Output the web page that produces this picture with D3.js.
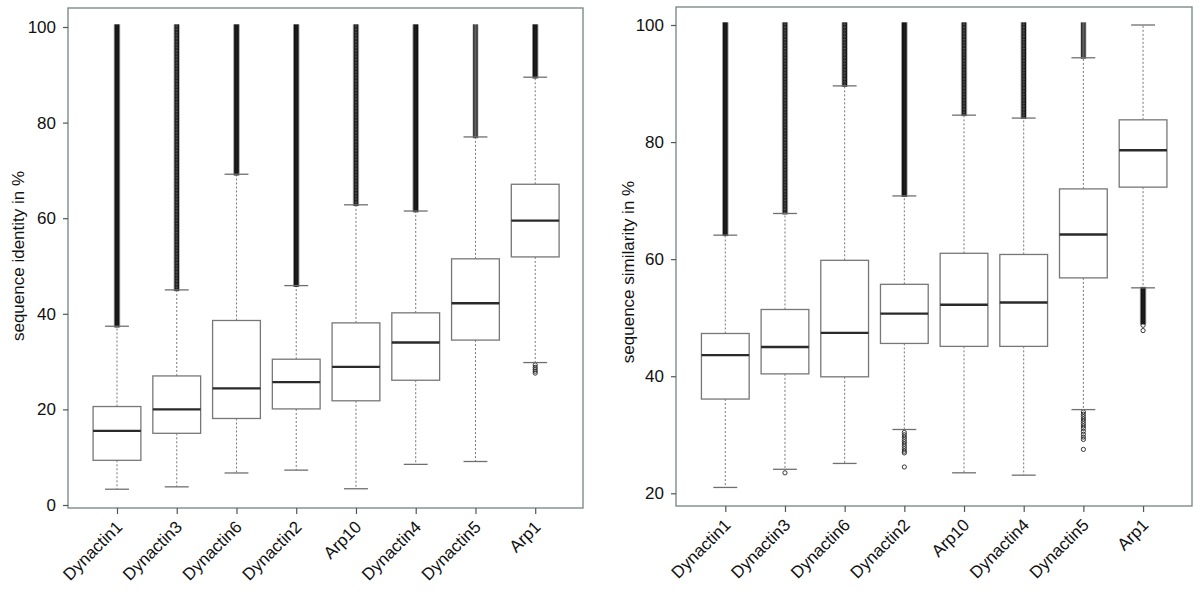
<!DOCTYPE html>
<html>
<head>
<meta charset="utf-8">
<script src="https://cdn.jsdelivr.net/npm/d3@7"></script>
<style>
  html, body { margin: 0; padding: 0; background: #fff; }
  svg { display: block; }
  text { font-family: "Liberation Sans", Arial, Helvetica, sans-serif; fill: #111; }
</style>
</head>
<body>
<svg id="chart" width="1200" height="600"></svg>
<script>
// ---------------- DATA ----------------
const categories = ["Dynactin1","Dynactin3","Dynactin6","Dynactin2","Arp10","Dynactin4","Dynactin5","Arp1"];

const identityTicks = [0, 20, 40, 60, 80, 100];
const identityLabel = "sequence identity in %";
const identityWhiskerLow  = [3.3, 3.8, 6.7, 7.3, 3.4, 8.5, 9.1, 29.8];
const identityQ1          = [9.35, 15.0, 18.1, 20.1, 21.8, 26.1, 34.5, 51.9];
const identityMedian      = [15.5, 20.0, 24.4, 25.7, 28.9, 34.0, 42.2, 59.5];
const identityQ3          = [20.6, 27.0, 38.6, 30.5, 38.1, 40.2, 51.5, 67.1];
const identityWhiskerHigh = [37.4, 45.0, 69.2, 45.9, 62.8, 61.5, 77.0, 89.5];
// dense outlier runs: [category index, from, to, density 1..3]
const identityOutlierRuns = [
  [0, 37.7, 100, 3], [1, 45.3, 100, 2], [2, 69.5, 100, 3], [3, 46.2, 100, 3],
  [4, 63.1, 100, 2], [5, 61.8, 100, 3], [6, 77.3, 100, 1], [7, 89.8, 100, 3]
];
// individually visible outliers: [category index, value]
const identityOutlierPoints = [[7, 29.3], [7, 28.8], [7, 28.4], [7, 28.0], [7, 27.6]];

const similarityTicks = [20, 40, 60, 80, 100];
const similarityLabel = "sequence similarity in %";
const similarityWhiskerLow  = [21.0, 24.1, 25.1, 30.9, 23.5, 23.1, 34.3, 55.1];
const similarityQ1          = [36.1, 40.4, 39.9, 45.6, 45.1, 45.1, 56.8, 72.3];
const similarityMedian      = [43.6, 45.0, 47.4, 50.7, 52.2, 52.6, 64.2, 78.6];
const similarityQ3          = [47.3, 51.4, 59.8, 55.7, 61.0, 60.8, 72.0, 83.8];
const similarityWhiskerHigh = [64.1, 67.8, 89.6, 70.8, 84.6, 84.1, 94.4, 100];
const similarityOutlierRuns = [
  [0, 64.4, 100, 3], [1, 68.1, 100, 2], [2, 89.9, 100, 2], [3, 71.1, 100, 3],
  [4, 84.9, 100, 2], [5, 84.4, 100, 2], [6, 94.7, 100, 1], [7, 49.3, 54.8, 3]
];
const similarityOutlierPoints = [
  [1, 23.5],
  [3, 30.4], [3, 30.0], [3, 29.6], [3, 29.2], [3, 28.8], [3, 28.4], [3, 28.0], [3, 27.6], [3, 27.2], [3, 26.9], [3, 24.5],
  [6, 33.9], [6, 33.5], [6, 33.1], [6, 32.7], [6, 32.3], [6, 31.9], [6, 31.5], [6, 31.1], [6, 30.6], [6, 30.1], [6, 29.6], [6, 29.2], [6, 27.5],
  [7, 48.7], [7, 47.8]
];

// ---------------- LAYOUT ----------------
const svg = d3.select("#chart");
const defs = svg.append("defs");
const FONT = 17;

const panels = [
  {
    id: "id", frame: {x0: 68, x1: 583, y0: 8, y1: 508},
    xDomain: [0.18, 8.8], yDomain: [0, 100], yRange: [505, 27],
    ticks: identityTicks, label: identityLabel, labelX: 24, labelY: 256,
    wl: identityWhiskerLow, q1: identityQ1, med: identityMedian, q3: identityQ3, wh: identityWhiskerHigh,
    runs: identityOutlierRuns, pts: identityOutlierPoints
  },
  {
    id: "sim", frame: {x0: 676, x1: 1192, y0: 7, y1: 506},
    xDomain: [0.174, 8.82], yDomain: [20, 100], yRange: [493.3, 25],
    ticks: similarityTicks, label: similarityLabel, labelX: 634, labelY: 272,
    wl: similarityWhiskerLow, q1: similarityQ1, med: similarityMedian, q3: similarityQ3, wh: similarityWhiskerHigh,
    runs: similarityOutlierRuns, pts: similarityOutlierPoints
  }
];

const densitySpacing = {1: 2.0, 2: 1.3, 3: 0.8};

panels.forEach(p => {
  const f = p.frame;
  const x = d3.scaleLinear().domain(p.xDomain).range([f.x0, f.x1]);
  const y = d3.scaleLinear().domain(p.yDomain).range(p.yRange);
  const band = x(1.4) - x(1);   // half box width (0.4 units)
  const cap = x(1.2) - x(1);    // half staple width
  const g = svg.append("g");

  // frame
  g.append("rect")
    .attr("x", f.x0).attr("y", f.y0)
    .attr("width", f.x1 - f.x0).attr("height", f.y1 - f.y0)
    .attr("fill", "none").attr("stroke", "#7d8c8c").attr("stroke-width", 1.4);

  // y axis
  const ya = g.append("g").attr("transform", `translate(${f.x0},0)`)
    .call(d3.axisLeft(y).tickValues(p.ticks).tickSize(5).tickPadding(7).tickFormat(d3.format("d")));
  ya.select(".domain").remove();
  ya.selectAll(".tick line").attr("stroke", "#555").attr("stroke-width", 1.2);
  ya.selectAll(".tick text").style("font-size", FONT + "px").attr("fill", "#111");

  // x axis
  const xa = g.append("g").attr("transform", `translate(0,${f.y1})`)
    .call(d3.axisBottom(x).tickValues(d3.range(1, categories.length + 1)).tickSize(6).tickFormat(d => categories[d - 1]));
  xa.select(".domain").remove();
  xa.selectAll(".tick line").attr("stroke", "#555").attr("stroke-width", 1.2);
  xa.selectAll(".tick text")
    .style("font-size", FONT + "px").attr("fill", "#111")
    .attr("text-anchor", "end")
    .attr("dy", null).attr("y", 0)
    .attr("transform", "translate(6,20) rotate(-45)");

  // y label
  g.append("text")
    .attr("transform", `translate(${p.labelX},${p.labelY}) rotate(-90)`)
    .attr("text-anchor", "middle")
    .style("font-size", FONT + "px")
    .text(p.label);

  const idx = d3.range(categories.length);

  // whiskers (dashed)
  g.selectAll(".wu").data(idx).join("line")
    .attr("x1", i => x(i + 1)).attr("x2", i => x(i + 1))
    .attr("y1", i => y(p.q3[i])).attr("y2", i => y(p.wh[i]))
    .attr("stroke", "#777").attr("stroke-width", 1).attr("stroke-dasharray", "2,2");
  g.selectAll(".wl").data(idx).join("line")
    .attr("x1", i => x(i + 1)).attr("x2", i => x(i + 1))
    .attr("y1", i => y(p.q1[i])).attr("y2", i => y(p.wl[i]))
    .attr("stroke", "#777").attr("stroke-width", 1).attr("stroke-dasharray", "2,2");

  // outlier runs: too dense to read one by one, drawn as a stacked-circle texture
  p.runs.forEach((r, k) => {
    const [ci, lo, hi, dens] = r;
    const cx = x(ci + 1);
    const sp = densitySpacing[dens];
    const n = Math.ceil(8 / sp);
    const H = n * sp;
    const pid = `pat-${p.id}-${k}`;
    const pat = defs.append("pattern").attr("id", pid)
      .attr("patternUnits", "userSpaceOnUse")
      .attr("x", cx - 3.2).attr("y", y(hi) - sp / 2)
      .attr("width", 6.4).attr("height", H);
    pat.selectAll("circle").data(d3.range(-4, n + 4)).join("circle")
      .attr("cx", 3.2).attr("cy", j => j * sp + sp / 2).attr("r", 2.2)
      .attr("fill", "none").attr("stroke", "#111").attr("stroke-width", 0.9);
    g.append("rect")
      .attr("x", cx - 3.2).attr("width", 6.4)
      .attr("y", y(hi) - 2.7).attr("height", y(lo) - y(hi) + 5.4)
      .attr("fill", `url(#${pid})`);
  });

  // individual outliers
  g.selectAll(".op").data(p.pts).join("circle")
    .attr("cx", d => x(d[0] + 1)).attr("cy", d => y(d[1])).attr("r", 2.1)
    .attr("fill", "none").attr("stroke", "#222").attr("stroke-width", 0.9);

  // caps
  g.selectAll(".cu").data(idx).join("line")
    .attr("x1", i => x(i + 1) - cap).attr("x2", i => x(i + 1) + cap)
    .attr("y1", i => y(p.wh[i])).attr("y2", i => y(p.wh[i]))
    .attr("stroke", "#6f6f6f").attr("stroke-width", 1.3);
  g.selectAll(".cl").data(idx).join("line")
    .attr("x1", i => x(i + 1) - cap).attr("x2", i => x(i + 1) + cap)
    .attr("y1", i => y(p.wl[i])).attr("y2", i => y(p.wl[i]))
    .attr("stroke", "#6f6f6f").attr("stroke-width", 1.3);

  // boxes
  g.selectAll(".box").data(idx).join("rect")
    .attr("x", i => x(i + 1) - band).attr("width", 2 * band)
    .attr("y", i => y(p.q3[i])).attr("height", i => y(p.q1[i]) - y(p.q3[i]))
    .attr("fill", "#fff").attr("stroke", "#777").attr("stroke-width", 1.3);

  // medians
  g.selectAll(".med").data(idx).join("line")
    .attr("x1", i => x(i + 1) - band).attr("x2", i => x(i + 1) + band)
    .attr("y1", i => y(p.med[i])).attr("y2", i => y(p.med[i]))
    .attr("stroke", "#2a2a2a").attr("stroke-width", 2.4);
});
</script>
</body>
</html>
